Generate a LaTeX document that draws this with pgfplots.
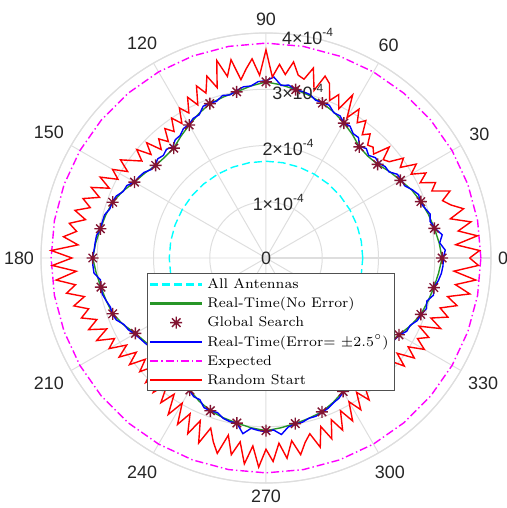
\documentclass[border=0pt]{standalone}
\usepackage{fontspec}
\usepackage{pgfplots}
\pgfplotsset{compat=1.18}
\usepgfplotslibrary{polar}
\newfontfamily\hv{Liberation Sans}
\definecolor{gridc}{RGB}{222,222,222}
\definecolor{txt}{RGB}{38,38,38}
\definecolor{lbox}{RGB}{80,80,80}
\definecolor{cgreen}{RGB}{40,150,40}
\definecolor{cstar}{RGB}{130,20,50}
\definecolor{ccyan}{RGB}{0,255,255}
\definecolor{cmag}{RGB}{255,0,255}
\definecolor{cred}{RGB}{255,0,0}
\definecolor{cblue}{RGB}{0,0,255}
\pgfdeclareplotmark{ast8}{%
  \pgfpathmoveto{\pgfqpoint{0pt}{\pgfplotmarksize}}\pgfpathlineto{\pgfqpoint{0pt}{-\pgfplotmarksize}}%
  \pgfpathmoveto{\pgfqpoint{\pgfplotmarksize}{0pt}}\pgfpathlineto{\pgfqpoint{-\pgfplotmarksize}{0pt}}%
  \pgfpathmoveto{\pgfqpoint{0.707\pgfplotmarksize}{0.707\pgfplotmarksize}}\pgfpathlineto{\pgfqpoint{-0.707\pgfplotmarksize}{-0.707\pgfplotmarksize}}%
  \pgfpathmoveto{\pgfqpoint{-0.707\pgfplotmarksize}{0.707\pgfplotmarksize}}\pgfpathlineto{\pgfqpoint{0.707\pgfplotmarksize}{-0.707\pgfplotmarksize}}%
  \pgfusepathqstroke}
\pgfplotsset{
  starlegend/.style={legend image code/.code={\begin{scope}[##1]\pgftransformshift{\pgfqpoint{13bp}{0bp}}\pgfuseplotmark{ast8}\end{scope}}},
  cyanstyle/.style={draw=ccyan, color=ccyan, line width=0.7bp, dash pattern=on 4bp off 2bp, mark=none},
  greenstyle/.style={draw=cgreen, color=cgreen, line width=0.7bp, mark=none},
  starstyle/.style={only marks, mark=ast8, mark size=3bp, draw=cstar, color=cstar, line width=0.7bp},
  bluestyle/.style={draw=cblue, color=cblue, line width=0.7bp, mark=none},
  magstyle/.style={draw=cmag, color=cmag, line width=0.7bp, dash pattern=on 4bp off 1.5bp on 0.7bp off 1.5bp, mark=none},
  redstyle/.style={draw=cred, color=cred, line width=0.7bp, mark=none},
}
\newcommand{\ls}{\rule[-2.4bp]{0pt}{8.2bp}}
\begin{document}
\begin{tikzpicture}
\begin{polaraxis}[
  scale only axis, width=225bp, height=225bp,
  clip=false,
  ymin=0, ymax=4,
  xtick={0,30,...,330},
  ytick={0,1,2,3,4},
  yticklabels={},
  major tick length=0pt,
  grid=major,
  major grid style={draw=gridc, line width=0.5bp},
  axis line style={draw=gridc, line width=0.6bp},
  xticklabel={\pgfmathprintnumber[assume math mode=true]{\tick}},
  xticklabel style={font=\hv\fontsize{9}{10}\selectfont, text=txt},
  legend cell align=left,
  legend image code/.code={\draw[#1, line width=1.1bp] (0bp,0bp) -- (26bp,0bp);},
  legend style={at={(0.2356,0.467)}, anchor=north west, font=\fontsize{7.0}{8.2}\selectfont,
    draw=lbox, line width=0.5bp, fill=white, row sep=0pt, inner xsep=0.8bp, inner ysep=0.8bp,
    nodes={inner xsep=2bp, inner ysep=1.12bp}},
]
\addplot[cyanstyle, forget plot] coordinates {
(0,1.72)(10,1.72)(20,1.72)(30,1.72)(40,1.72)(50,1.72)(60,1.72)(70,1.72)(80,1.72)(90,1.72)(100,1.72)(110,1.72)(120,1.72)(130,1.72)(140,1.72)(150,1.72)(160,1.72)(170,1.72)(180,1.72)(190,1.72)(200,1.72)(210,1.72)(220,1.72)(230,1.72)(240,1.72)(250,1.72)(260,1.72)(270,1.72)(280,1.72)(290,1.72)(300,1.72)(310,1.72)(320,1.72)(330,1.72)(340,1.72)(350,1.72)(360,1.72)};
\addplot[greenstyle, forget plot] coordinates {
(0,3.13)(5,3.09)(10,3.04)(15,2.99)(20,2.93)(25,2.86)(30,2.76)(35,2.68)(40,2.59)(45,2.56)(50,2.58)(55,2.68)(60,2.77)(65,2.86)(70,2.93)(75,2.99)(80,3.04)(85,3.09)(90,3.13)(95,3.07)(100,3.00)(105,2.96)(110,2.92)(115,2.83)(120,2.73)(125,2.64)(130,2.55)(135,2.54)(140,2.56)(145,2.63)(150,2.70)(155,2.81)(160,2.90)(165,2.95)(170,2.99)(175,3.04)(180,3.08)(185,3.03)(190,2.98)(195,2.94)(200,2.90)(205,2.80)(210,2.68)(215,2.61)(220,2.54)(225,2.53)(230,2.55)(235,2.63)(240,2.71)(245,2.81)(250,2.89)(255,2.94)(260,2.98)(265,3.03)(270,3.07)(275,3.03)(280,2.99)(285,2.95)(290,2.91)(295,2.83)(300,2.74)(305,2.66)(310,2.57)(315,2.55)(320,2.57)(325,2.65)(330,2.73)(335,2.84)(340,2.93)(345,2.98)(350,3.03)(355,3.08)(360,3.13)};
\addplot[starstyle, forget plot] coordinates {
(0,3.13)(10,3.04)(20,2.93)(30,2.76)(40,2.59)(50,2.58)(60,2.77)(70,2.93)(80,3.04)(90,3.13)(100,3.00)(110,2.92)(120,2.73)(130,2.55)(140,2.56)(150,2.70)(160,2.90)(170,2.99)(180,3.08)(190,2.98)(200,2.90)(210,2.68)(220,2.54)(230,2.55)(240,2.71)(250,2.89)(260,2.98)(270,3.07)(280,2.99)(290,2.91)(300,2.74)(310,2.57)(320,2.57)(330,2.73)(340,2.93)(350,3.03)};
\addplot[bluestyle, forget plot] coordinates {
(0,3.15)(2.5,3.19)(5,3.10)(7.5,3.16)(10,3.05)(12.5,2.99)(15,3.02)(17.5,2.96)(20,2.91)(22.5,2.94)(25,2.87)(27.5,2.78)(30,2.78)(32.5,2.77)(35,2.67)(37.5,2.67)(40,2.62)(42.5,2.64)(45,2.58)(47.5,2.64)(50,2.59)(52.5,2.70)(55,2.70)(57.5,2.78)(60,2.77)(62.5,2.85)(65,2.85)(67.5,2.94)(70,2.94)(72.5,2.94)(75,3.01)(77.5,3.03)(80,3.04)(82.5,3.10)(85,3.08)(87.5,3.22)(90,3.15)(92.5,3.14)(95,3.07)(97.5,3.07)(100,3.02)(102.5,2.97)(105,2.99)(107.5,2.92)(110,2.93)(112.5,2.92)(115,2.81)(117.5,2.80)(120,2.74)(122.5,2.73)(125,2.66)(127.5,2.65)(130,2.58)(132.5,2.62)(135,2.58)(137.5,2.61)(140,2.57)(142.5,2.58)(145,2.65)(147.5,2.68)(150,2.70)(152.5,2.79)(155,2.80)(157.5,2.88)(160,2.91)(162.5,2.91)(165,2.97)(167.5,2.98)(170,2.99)(172.5,3.04)(175,3.05)(177.5,3.06)(180,3.09)(182.5,3.08)(185,3.07)(187.5,2.97)(190,2.98)(192.5,2.98)(195,2.94)(197.5,2.90)(200,2.91)(202.5,2.88)(205,2.79)(207.5,2.76)(210,2.70)(212.5,2.66)(215,2.63)(217.5,2.60)(220,2.56)(222.5,2.57)(225,2.55)(227.5,2.58)(230,2.56)(232.5,2.61)(235,2.63)(237.5,2.69)(240,2.72)(242.5,2.78)(245,2.78)(247.5,2.88)(250,2.89)(252.5,2.88)(255,2.95)(257.5,2.98)(260,2.98)(262.5,3.15)(265,3.04)(267.5,3.07)(270,3.09)(272.5,3.06)(275,3.15)(277.5,3.03)(280,3.00)(282.5,2.99)(285,2.95)(287.5,2.95)(290,2.92)(292.5,2.89)(295,2.84)(297.5,2.81)(300,2.75)(302.5,2.72)(305,2.66)(307.5,2.64)(310,2.58)(312.5,2.59)(315,2.57)(317.5,2.59)(320,2.58)(322.5,2.63)(325,2.65)(327.5,2.71)(330,2.74)(332.5,2.82)(335,2.83)(337.5,2.91)(340,2.94)(342.5,2.99)(345,2.96)(347.5,3.05)(350,3.03)(352.5,3.09)(355,3.13)(357.5,3.15)(360,3.15)};
\addplot[magstyle, forget plot] coordinates {
(0,3.82)(10,3.82)(20,3.82)(30,3.82)(40,3.82)(50,3.82)(60,3.82)(70,3.82)(80,3.82)(90,3.82)(100,3.82)(110,3.82)(120,3.82)(130,3.82)(140,3.82)(150,3.82)(160,3.82)(170,3.82)(180,3.82)(190,3.82)(200,3.82)(210,3.82)(220,3.82)(230,3.82)(240,3.82)(250,3.82)(260,3.82)(270,3.82)(280,3.82)(290,3.82)(300,3.82)(310,3.82)(320,3.82)(330,3.82)(340,3.82)(350,3.82)(360,3.82)};
\addplot[redstyle, forget plot] coordinates {
(0,3.62)(2,3.80)(4,3.38)(6,3.78)(8,3.45)(10,3.70)(12,3.35)(14,3.62)(16,3.42)(18,3.30)(20,3.48)(22,3.18)(24,3.30)(26,3.05)(28,3.22)(30,2.98)(32,3.15)(34,2.88)(36,3.02)(38,2.78)(40,2.72)(42,2.95)(44,2.66)(46,2.74)(48,2.70)(50,2.88)(52,2.78)(54,3.02)(56,2.90)(58,3.12)(60,2.88)(62,3.28)(64,2.95)(66,3.18)(68,3.02)(70,3.30)(72,3.40)(74,3.10)(76,3.48)(78,3.25)(80,3.30)(82,3.52)(84,3.28)(86,3.45)(88,3.22)(90,3.70)(92,3.25)(94,3.55)(96,3.38)(98,3.20)(100,3.58)(102,3.30)(104,3.62)(106,3.15)(108,3.40)(110,3.12)(112,3.30)(114,2.98)(116,3.18)(118,2.92)(120,3.08)(122,2.82)(124,3.00)(126,2.78)(128,2.92)(130,2.70)(132,2.85)(134,2.68)(136,2.95)(138,2.75)(140,3.00)(142,2.80)(144,2.95)(146,3.12)(148,2.90)(150,3.15)(152,2.98)(154,3.28)(156,3.05)(158,3.35)(160,3.15)(162,3.42)(164,3.25)(166,3.50)(168,3.28)(170,3.55)(172,3.40)(174,3.62)(176,3.35)(178,3.82)(180,3.45)(182,3.80)(184,3.38)(186,3.75)(188,3.42)(190,3.60)(192,3.30)(194,3.52)(196,3.28)(198,3.45)(200,3.20)(202,3.40)(204,3.10)(206,3.35)(208,3.05)(210,3.22)(212,2.92)(214,3.15)(216,2.85)(218,3.08)(220,2.80)(222,3.02)(224,2.78)(226,3.08)(228,2.80)(230,3.12)(232,2.85)(234,3.18)(236,2.92)(238,3.28)(240,2.98)(242,3.35)(244,3.08)(246,3.42)(248,3.12)(250,3.50)(252,3.18)(254,3.40)(256,3.58)(258,3.22)(260,3.55)(262,3.30)(264,3.68)(266,3.35)(268,3.72)(270,3.40)(272,3.62)(274,3.30)(276,3.58)(278,3.28)(280,3.55)(282,3.35)(284,3.22)(286,3.50)(288,3.15)(290,3.42)(292,3.10)(294,3.35)(296,3.02)(298,3.28)(300,2.95)(302,3.18)(304,2.88)(306,3.12)(308,2.82)(310,3.05)(312,2.78)(314,2.98)(316,2.80)(318,3.05)(320,2.82)(322,3.12)(324,2.88)(326,3.18)(328,2.98)(330,3.25)(332,3.05)(334,3.22)(336,2.98)(338,3.35)(340,3.12)(342,3.40)(344,3.22)(346,3.50)(348,3.30)(350,3.68)(352,3.40)(354,3.75)(356,3.35)(358,3.78)(360,3.62)};
\addlegendimage{cyanstyle}
\addlegendentry{\ls All Antennas}
\addlegendimage{greenstyle}
\addlegendentry{\ls Real-Time(No Error)}
\addlegendimage{starstyle, starlegend}
\addlegendentry{\ls Global Search}
\addlegendimage{bluestyle}
\addlegendentry{\ls Real-Time(Error= $\pm 2.5^\circ$)}
\addlegendimage{magstyle}
\addlegendentry{\ls Expected}
\addlegendimage{redstyle}
\addlegendentry{\ls Random Start}
\coordinate (O) at (axis cs:0,0);
\node[font=\hv\fontsize{9}{10}\selectfont, text=txt] at (axis cs:80,0) {0};
\node[font=\hv\fontsize{9}{10}\selectfont, text=txt, xshift=1.5bp] at (axis cs:80,1) {1×10\textsuperscript{-4}};
\node[font=\hv\fontsize{9}{10}\selectfont, text=txt, xshift=1.5bp] at (axis cs:80,2) {2×10\textsuperscript{-4}};
\node[font=\hv\fontsize{9}{10}\selectfont, text=txt, xshift=1.5bp] at (axis cs:80,3) {3×10\textsuperscript{-4}};
\node[font=\hv\fontsize{9}{10}\selectfont, text=txt, xshift=1.5bp] at (axis cs:80,4) {4×10\textsuperscript{-4}};
\end{polaraxis}
\pgfresetboundingbox
\path[use as bounding box] (O) ++(-133bp,-125bp) rectangle ++(253.5bp,254bp);
\end{tikzpicture}
\end{document}
